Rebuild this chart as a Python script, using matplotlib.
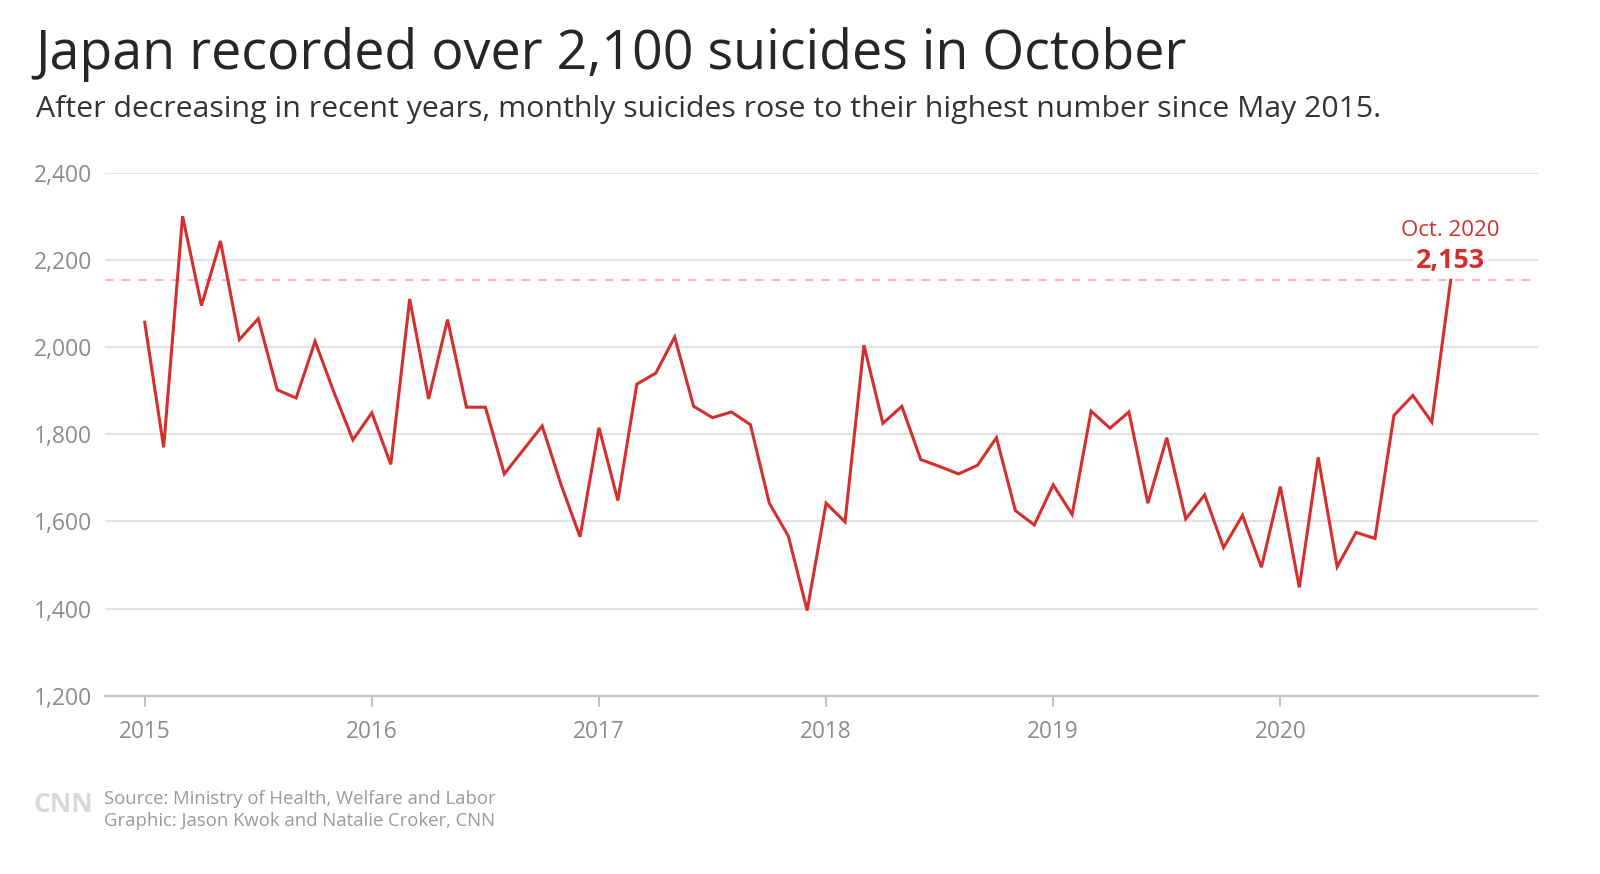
import matplotlib
matplotlib.use("Agg")
import matplotlib.pyplot as plt

# Monthly suicides in Japan, Jan 2015 - Oct 2020
years = [2015, 2016, 2017, 2018, 2019, 2020]
suicides = [
    2057, 1770, 2300, 2095, 2243, 2017, 2065, 1902, 1883, 2013, 1896, 1787,  # 2015
    1849, 1731, 2110, 1881, 2063, 1862, 1862, 1709, 1764, 1819, 1684, 1565,  # 2016
    1815, 1648, 1915, 1940, 2023, 1864, 1838, 1851, 1822, 1642, 1567, 1396,  # 2017
    1642, 1599, 2004, 1825, 1864, 1742, 1726, 1709, 1729, 1792, 1625, 1592,  # 2018
    1684, 1616, 1853, 1814, 1851, 1642, 1792, 1606, 1661, 1540, 1614, 1495,  # 2019
    1680, 1449, 1747, 1496, 1575, 1561, 1843, 1889, 1828, 2153,              # 2020
]
yticks = [1200, 1400, 1600, 1800, 2000, 2200, 2400]

RED = "#d42f2c"
GREY = "#8c8c8c"
FONT = "Open Sans"

months = list(range(len(suicides)))
year_pos = [12 * i for i in range(len(years))]

fig = plt.figure(figsize=(16, 8.74), dpi=100)
ax = fig.add_axes([0.0656, 0.2037, 0.8955, 0.5989])

ax.plot(months, suicides, color=RED, linewidth=2.2, solid_joinstyle="miter", zorder=3)
ax.axhline(suicides[-1], color="#f6b9b9", linewidth=1.5, linestyle=(0, (4, 4)), zorder=2)

ax.set_xlim(-2.1, 73.6)
ax.set_ylim(1200, 2400)
ax.set_yticks(yticks)
ax.set_yticklabels([f"{v:,}" for v in yticks])
ax.set_xticks(year_pos)
ax.set_xticklabels([str(y) for y in years])
ax.grid(axis="y", color="#e3e3e3", linewidth=1.5)
ax.set_axisbelow(True)

for side in ("top", "right", "left"):
    ax.spines[side].set_visible(False)
ax.spines["bottom"].set_color("#c4c4c4")
ax.spines["bottom"].set_linewidth(1.5)

ax.tick_params(axis="y", length=0, pad=9, labelsize=16.5, labelcolor=GREY)
ax.tick_params(axis="x", length=8, width=1.5, color="#c4c4c4", pad=9,
               labelsize=16.3, labelcolor=GREY)
for lbl in ax.get_xticklabels() + ax.get_yticklabels():
    lbl.set_fontfamily(FONT)

# label for the latest month
last = months[-1]
ax.text(last, 2266, "Oct. 2020", color=RED, fontsize=16, ha="center", va="center",
        family=FONT)
ax.text(last, 2197, f"{suicides[-1]:,}", color=RED, fontsize=19.3, fontweight="bold",
        ha="center", va="center", family=FONT,
        bbox=dict(facecolor="white", edgecolor="none", pad=2))

fig.text(0.0223, 0.9206, "Japan recorded over 2,100 suicides in October",
         fontsize=38.7, color="#262626", family=FONT, va="baseline")
fig.text(0.0223, 0.8658,
         "After decreasing in recent years, monthly suicides rose to their highest number since May 2015.",
         fontsize=21.8, color="#333333", family=FONT, va="baseline")

fig.text(0.021, 0.079, "CNN", fontsize=19, fontweight="bold", color="#d9d9d9",
         family=FONT, va="center")
fig.text(0.065, 0.0805, "Source: Ministry of Health, Welfare and Labor",
         fontsize=13.3, color="#9a9a9a", family=FONT, va="baseline")
fig.text(0.065, 0.0545, "Graphic: Jason Kwok and Natalie Croker, CNN",
         fontsize=13.3, color="#9a9a9a", family=FONT, va="baseline")

fig.savefig("out.png", dpi=100, facecolor="white")
